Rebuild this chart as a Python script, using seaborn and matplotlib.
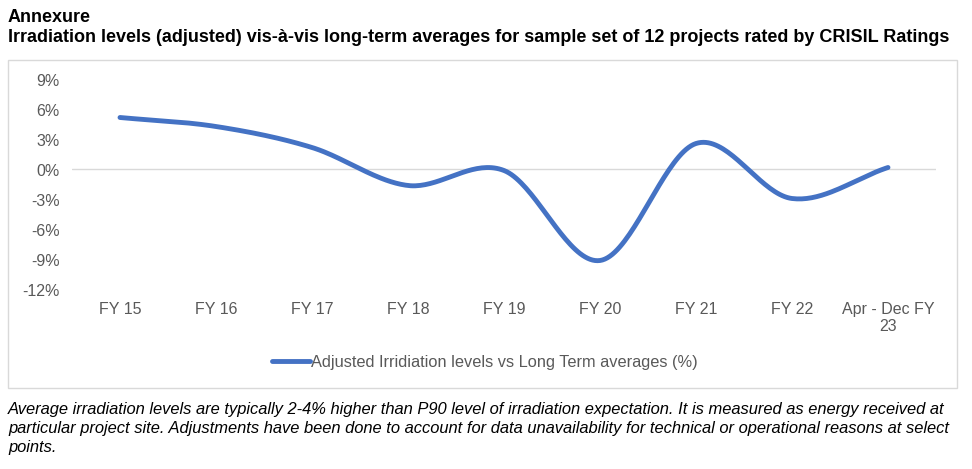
import numpy as np
import pandas as pd
import matplotlib
matplotlib.use("Agg")
import matplotlib.pyplot as plt
from matplotlib.patches import Rectangle
import seaborn as sns

categories = ["FY 15", "FY 16", "FY 17", "FY 18", "FY 19", "FY 20", "FY 21", "FY 22", "Apr - Dec FY\n23"]
values = [5.2, 4.3, 2.2, -1.6, -0.1, -9.1, 2.6, -2.9, 0.2]
yticks = [9, 6, 3, 0, -3, -6, -9, -12]
series_name = "Adjusted Irridiation levels vs Long Term averages (%)"
title1 = "Annexure"
title2 = "Irradiation levels (adjusted) vis-à-vis long-term averages for sample set of 12 projects rated by CRISIL Ratings"
footnote = ("Average irradiation levels are typically 2-4% higher than P90 level of irradiation expectation. It is measured as energy received at\n"
            "particular project site. Adjustments have been done to account for data unavailability for technical or operational reasons at select\n"
            "points.")

sns.set_theme(style="white")
plt.rcParams['font.family'] = ['Liberation Sans', 'DejaVu Sans']

W, H = 972, 469
fig = plt.figure(figsize=(W / 100, H / 100), dpi=100)

# chart box border
fig.patches.append(Rectangle((8 / W, 1 - 388 / H), (957 - 8) / W, (388 - 60) / H,
                             transform=fig.transFigure, fill=False, edgecolor="#D9D9D9", linewidth=1))

ax = fig.add_axes([72 / W, 1 - 289.5 / H, 864 / W, 210 / H])

# Catmull-Rom smoothing (Excel-like smoothed line) through the data points
x = np.arange(len(values), dtype=float)
y = np.array(values, dtype=float)
px = np.concatenate([[2 * x[0] - x[1]], x, [2 * x[-1] - x[-2]]])
py = np.concatenate([[2 * y[0] - y[1]], y, [2 * y[-1] - y[-2]]])
sx, sy = [], []
t = np.linspace(0, 1, 40)
for i in range(1, len(px) - 2):
    p0x, p1x, p2x, p3x = px[i - 1], px[i], px[i + 1], px[i + 2]
    p0y, p1y, p2y, p3y = py[i - 1], py[i], py[i + 1], py[i + 2]
    c1x, c1y = p1x + (p2x - p0x) / 6, p1y + (p2y - p0y) / 6
    c2x, c2y = p2x - (p3x - p1x) / 6, p2y - (p3y - p1y) / 6
    bx = (1 - t) ** 3 * p1x + 3 * (1 - t) ** 2 * t * c1x + 3 * (1 - t) * t ** 2 * c2x + t ** 3 * p2x
    by = (1 - t) ** 3 * p1y + 3 * (1 - t) ** 2 * t * c1y + 3 * (1 - t) * t ** 2 * c2y + t ** 3 * p2y
    sx.extend(bx)
    sy.extend(by)
df = pd.DataFrame({"x": sx, "y": sy, "s": series_name})

ax.axhline(0, color="#D9D9D9", linewidth=1, zorder=1)
sns.lineplot(data=df, x="x", y="y", hue="s", palette=["#4472C4"], sort=False,
             linewidth=3.5, ax=ax, zorder=3, legend=True)
ax.lines[-1].set_solid_capstyle("round")

ax.set_xlim(-0.5, len(categories) - 0.5)
ax.set_ylim(-12, 9)
ax.set_xticks(range(len(categories)))
ax.set_xticklabels(categories, multialignment="center")
ax.set_yticks(yticks)
ax.set_yticklabels([f"{v}%" for v in yticks])
ax.tick_params(axis="both", length=0, labelsize=11.5, colors="#595959")
ax.tick_params(axis="x", pad=9)
ax.tick_params(axis="y", pad=9)
ax.set_xlabel("")
ax.set_ylabel("")
for s in ax.spines.values():
    s.set_visible(False)
ax.grid(False)

leg = ax.legend(loc="center", bbox_to_anchor=(485 / W, 1 - 362 / H), bbox_transform=fig.transFigure,
                frameon=False, fontsize=11.8, handlelength=2.3, handletextpad=0.1)
for txt in leg.get_texts():
    txt.set_color("#595959")
for h in leg.get_lines():
    h.set_linewidth(3.5)

fig.text(8 / W, 1 - 17 / H, title1, fontsize=13.0, fontweight="bold", va="center", ha="left", color="black")
fig.text(8 / W, 1 - 38 / H, title2, fontsize=13.0, fontweight="bold", va="center", ha="left", color="black")
fig.text(8 / W, 1 - 402 / H, footnote, fontsize=11.85, fontstyle="italic", va="top", ha="left",
         color="black", linespacing=1.32)

fig.savefig("out.png", dpi=100)
